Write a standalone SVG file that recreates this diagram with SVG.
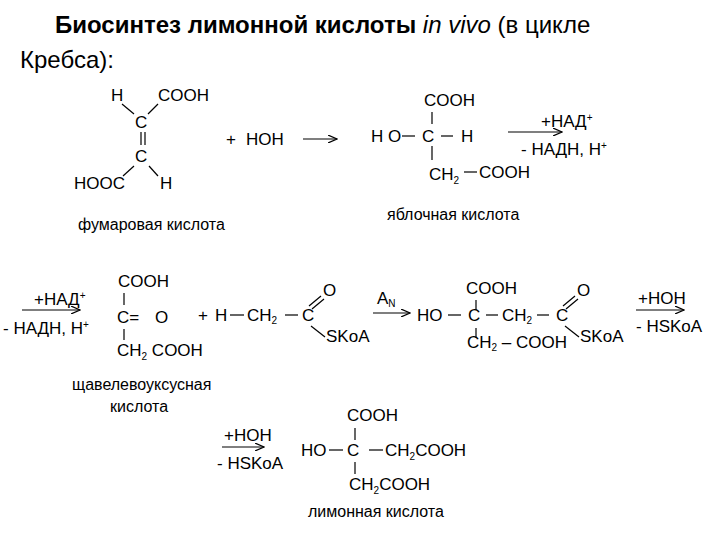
<svg xmlns="http://www.w3.org/2000/svg" width="720" height="540" viewBox="0 0 720 540">
<defs><marker id="ah" markerWidth="10" markerHeight="8" refX="9" refY="4" orient="auto" markerUnits="userSpaceOnUse"><path d="M0,0 L9,4 L0,8" fill="none" stroke="#000" stroke-width="1.2"/></marker></defs>
<style>
text{font-family:"Liberation Sans",Arial,sans-serif;font-size:17px;fill:#000}
.t{font-size:24px}.l{font-size:16px}.s{font-size:10px}
line{stroke:#000;stroke-width:1.2}
.a{marker-end:url(#ah)}
</style>
<rect width="720" height="540" fill="#fff"/>
<g id="title"><text class="t" x="55" y="33"><tspan font-weight="bold">Биосинтез лимонной кислоты </tspan><tspan font-style="italic">in vivo</tspan> (в цикле</text><text class="t" x="20" y="68">Кребса):</text></g>
<g id="fumarate">
<text x="111" y="101">H</text><text x="158" y="101">COOH</text>
<text x="135" y="128">C</text><text x="135" y="162">C</text>
<text x="74" y="189">HOOC</text><text x="160" y="189">H</text>
<text class="l" x="78" y="230">фумаровая кислота</text>
</g>
<g id="hoh"><text x="226" y="145">+</text><text x="246" y="145">HOH</text></g>
<g id="malate">
<text x="424" y="106">COOH</text>
<text x="371" y="142">H O</text><text x="422" y="142">C</text><text x="461" y="142">H</text>
<text x="429" y="180">CH<tspan class="s" dy="4">2</tspan></text><text x="479" y="178">COOH</text>
<text class="l" x="387" y="220">яблочная кислота</text>
</g>
<g id="r1b"><text x="541" y="127">+НАД<tspan class="s" dy="-6">+</tspan></text><text x="521" y="155">- НАДН, Н<tspan class="s" dy="-6">+</tspan></text></g>
<g id="oxaloacetate">
<text x="34" y="305">+НАД<tspan class="s" dy="-6">+</tspan></text><text x="3" y="334">- НАДН, Н<tspan class="s" dy="-6">+</tspan></text>
<text x="118" y="287">COOH</text><text x="117" y="323">C=</text><text x="155" y="323">O</text>
<text x="117" y="356">CH<tspan class="s" dy="4">2</tspan><tspan dy="-4"> COOH</tspan></text>
<text class="l" x="72" y="390">щавелевоуксусная</text><text class="l" x="110" y="412">кислота</text>
</g>
<g id="acetylcoa">
<text x="198" y="321">+</text><text x="215" y="321">H</text><text x="247" y="321">CH<tspan class="s" dy="3">2</tspan></text><text x="302" y="321">C</text>
<text x="323" y="296">O</text><text x="326" y="342">SKoA</text>
</g>
<g id="an"><text x="377" y="304">A<tspan class="s" dy="3">N</tspan></text></g>
<g id="citrylcoa">
<text x="417" y="321">HO</text><text x="468" y="321">C</text><text x="502" y="321">CH<tspan class="s" dy="3">2</tspan></text><text x="556" y="321">C</text>
<text x="466" y="294">COOH</text><text x="577" y="296">O</text><text x="580" y="342">SKoA</text>
<text x="467" y="348">CH<tspan class="s" dy="3">2</tspan><tspan dy="-3"> – COOH</tspan></text>
<text x="638" y="304">+HOH</text><text x="636" y="332">- HSKoA</text>
</g>
<g id="citrate">
<text x="224" y="441">+HOH</text><text x="217" y="469">- HSKoA</text>
<text x="347" y="421">COOH</text><text x="301" y="456">HO</text><text x="347" y="456">C</text>
<text x="385" y="456">CH<tspan class="s" dy="4">2</tspan><tspan dy="-4">COOH</tspan></text>
<text x="349" y="490">CH<tspan class="s" dy="4">2</tspan><tspan dy="-4">COOH</tspan></text>
<text class="l" x="308" y="517">лимонная кислота</text>
</g>
<g id="connectors">
<line x1="122" y1="104" x2="134" y2="114"/><line x1="158" y1="104" x2="148" y2="114"/>
<line x1="141" y1="132" x2="141" y2="145"/><line x1="145" y1="132" x2="145" y2="145"/>
<line x1="134" y1="166" x2="123" y2="176"/><line x1="149" y1="166" x2="158" y2="176"/>
<line class="a" x1="303" y1="139" x2="337" y2="139"/>
<line x1="432" y1="112" x2="432" y2="124"/><line x1="402" y1="136" x2="415" y2="136"/><line x1="441" y1="136" x2="453" y2="136"/><line x1="432" y1="146" x2="432" y2="160"/><line x1="464" y1="172" x2="477" y2="172"/>
<line class="a" x1="508" y1="132" x2="562" y2="132"/>
<line class="a" x1="22" y1="310" x2="80" y2="310"/>
<line x1="124" y1="293" x2="124" y2="305"/><line x1="124" y1="329" x2="124" y2="340"/>
<line x1="230" y1="315" x2="244" y2="315"/><line x1="285" y1="315" x2="298" y2="315"/>
<line x1="309" y1="306" x2="321" y2="296"/><line x1="312" y1="309" x2="324" y2="299"/><line x1="311" y1="326" x2="325" y2="337"/>
<line class="a" x1="373" y1="313" x2="410" y2="313"/>
<line x1="448" y1="315" x2="461" y2="315"/><line x1="486" y1="315" x2="498" y2="315"/><line x1="537" y1="315" x2="549" y2="315"/>
<line x1="476" y1="300" x2="476" y2="310"/><line x1="476" y1="328" x2="476" y2="338"/>
<line x1="563" y1="306" x2="575" y2="296"/><line x1="566" y1="309" x2="578" y2="299"/><line x1="565" y1="326" x2="579" y2="337"/>
<line class="a" x1="636" y1="310" x2="684" y2="310"/>
<line class="a" x1="222" y1="447" x2="264" y2="447"/>
<line x1="355" y1="428" x2="355" y2="440"/><line x1="329" y1="450" x2="343" y2="450"/><line x1="369" y1="450" x2="383" y2="450"/><line x1="355" y1="462" x2="355" y2="474"/>
</g>
</svg>
